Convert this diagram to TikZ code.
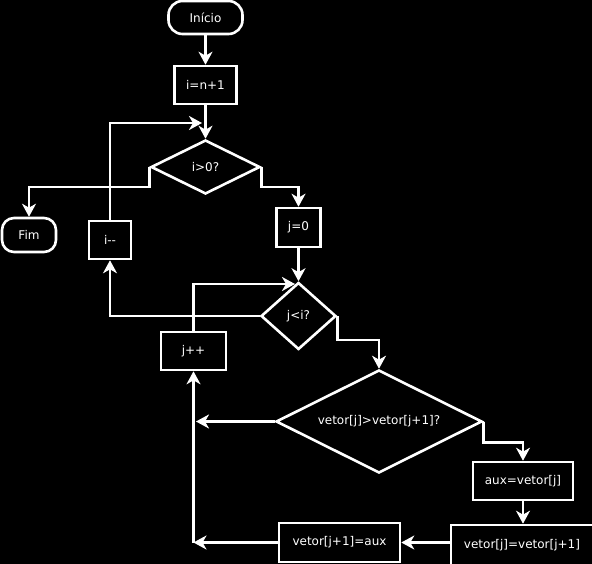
\documentclass[tikz,border=0pt]{standalone}
\usepackage{fontspec}
\setmainfont{DejaVu Sans}
\usetikzlibrary{positioning, shapes.geometric, arrows.meta}

\tikzset{
  caixa/.style={draw=white, line width=2.6pt, text=white, font=\fontsize{12}{14}\selectfont, inner sep=0pt},
  processo/.style={caixa, rectangle},
  terminal/.style={caixa, rectangle, rounded corners=14pt},
  decisao/.style={caixa, diamond, aspect=2},
  seta/.style={draw=white, line width=2.6pt, -{Stealth[length=13pt, width=14pt, inset=4pt]}}
}

\begin{document}
\begin{tikzpicture}[x=1pt, y=-1pt]
  \useasboundingbox (0,0) rectangle (592,564);
  \fill[black] (0,0) rectangle (592,564);
  \clip (0,0) rectangle (592,564);

  \node[terminal, minimum width=74pt, minimum height=33pt] (inicio) at (205.5,17.5) {Início};
  \node[processo, minimum width=62pt, minimum height=38pt] (inicializa) at (205.5,85) {i=n+1};
  \node[decisao, minimum width=109pt, minimum height=54pt] (testei) at (205.5,167) {i>0?};
  \node[terminal, minimum width=54pt, minimum height=34pt, rounded corners=12pt] (fim) at (29,235) {Fim};
  \node[processo, minimum width=42pt, minimum height=38pt] (decrementa) at (110,240) {i-{}-};
  \node[processo, minimum width=44pt, minimum height=39pt] (zeraj) at (298.5,227.5) {j=0};
  \node[decisao, minimum width=75pt, minimum height=67pt, aspect=1] (testej) at (298.5,316) {j<i?};
  \node[processo, minimum width=65pt, minimum height=38pt] (incrementa) at (193.5,351) {j++};
  \node[decisao, minimum width=206pt, minimum height=103pt] (compara) at (379,421.5) {vetor[j]>vetor[j+1]?};
  \node[processo, minimum width=100pt, minimum height=38pt] (guarda) at (523,481) {aux=vetor[j]};
  \node[processo, minimum width=142pt, minimum height=40pt] (troca) at (522,545) {vetor[j]=vetor[j+1]};
  \node[processo, minimum width=121pt, minimum height=39pt] (devolve) at (339.5,542.5) {vetor[j+1]=aux};

  \coordinate (lacoi) at (202,123);
  \coordinate (lacoj) at (295,284);
  \coordinate (naotroca) at (196,421.5);
  \coordinate (canto) at (193.5,542.5);

  \draw[seta] (inicio) -- (inicializa);
  \draw[seta] (inicializa) -- (testei);
  \draw[seta] (testei.west) -- ++(0,20) -| (fim.north);
  \draw[seta] (testei.east) -- ++(0,20) -| (zeraj.north);
  \draw[seta] (decrementa.north) |- (lacoi);
  \draw[seta] (zeraj) -- (testej);
  \draw[seta] (testej.west) -| (decrementa.south);
  \draw[seta] (incrementa.north) |- (lacoj);
  \draw[seta] (testej.east) -- ++(0,24) -| (compara.north);
  \draw[seta] (compara.west) -- (naotroca);
  \draw[seta] (compara.east) -- ++(0,21) -| (guarda.north);
  \draw[seta] (guarda.south) -- (guarda.south |- troca.north);
  \draw[seta] (troca.west |- devolve.east) -- (devolve.east);
  \draw[seta] (devolve.west) -- (canto);
  \draw[seta] (canto) -- (incrementa.south);
\end{tikzpicture}
\end{document}
